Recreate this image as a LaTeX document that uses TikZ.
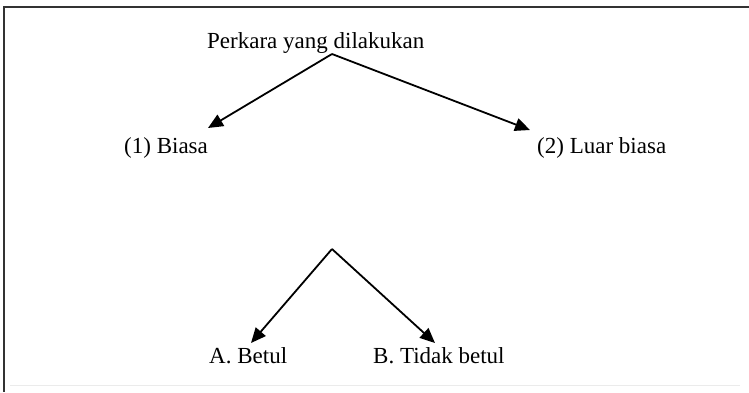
\documentclass[tikz,border=0pt]{standalone}
\usepackage{fontspec}
\setmainfont{Liberation Serif}
\usetikzlibrary{arrows.meta}
\begin{document}
\begin{tikzpicture}[x=1pt,y=-1pt,
  lbl/.style={inner sep=0pt,anchor=base west,font=\fontsize{23}{27}\selectfont},
  arr/.style={line width=1.8pt,-{Triangle[length=15pt,width=13pt]}},
  frame/.style={line width=2pt,draw=black!80}]
\useasboundingbox (0,0) rectangle (749,392);
\fill[white] (0,0) rectangle (749,392);
% frame
\draw[frame] (749,7) -- (4,7) -- (4,392);
\draw[black!8,line width=1pt] (10,385) -- (740,385);
% nodes
\node[lbl] (top) at (207,48) {Perkara yang dilakukan};
\node[lbl] (one) at (124,153) {(1) Biasa};
\node[lbl] (two) at (537,153) {(2) Luar biasa};
\node[lbl] (a) at (209,363) {A. Betul};
\node[lbl] (b) at (373,363) {B. Tidak betul};
\coordinate (apex1) at (332,54);
\coordinate (apex2) at (332,249);
\coordinate (t1) at (208,128);
\coordinate (t2) at (530,130);
\coordinate (ta) at (251,343);
\coordinate (tb) at (435,343);
\draw[arr] (apex1) -- (t1);
\draw[arr] (apex1) -- (t2);
\draw[arr] (apex2) -- (ta);
\draw[arr] (apex2) -- (tb);
\end{tikzpicture}
\end{document}
